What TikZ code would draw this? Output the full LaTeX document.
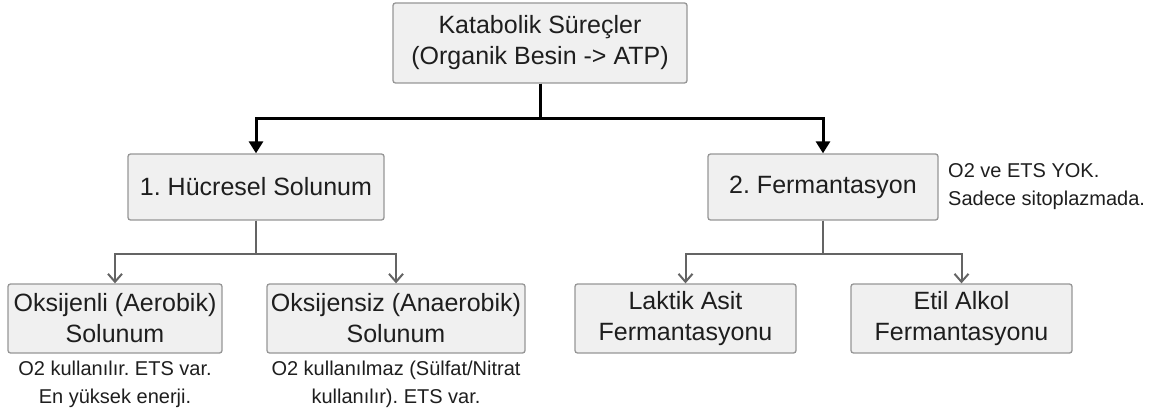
\documentclass[tikz,border=0pt]{standalone}
\usepackage{fontspec}
\setmainfont{Liberation Sans}
\frenchspacing
\usetikzlibrary{arrows.meta}
\definecolor{boxfill}{RGB}{240,240,240}
\definecolor{kenar}{RGB}{150,150,150}
\definecolor{yazi}{RGB}{30,30,30}
\definecolor{okgri}{RGB}{100,100,100}
\begin{document}
\begin{tikzpicture}[x=1pt, y=-1pt,
    kutu/.style={draw=kenar, fill=boxfill, line width=1.3pt, rounded corners=2.5pt,
      align=center, text=yazi, inner sep=0pt, font=\fontsize{25}{31}\selectfont},
    aciklama/.style={text=yazi, inner sep=0pt, font=\fontsize{20}{28}\selectfont},
    kalin/.style={line width=3pt, -{Triangle[length=12pt,width=14pt]}},
    ince/.style={draw=okgri, line width=2pt, -{Straight Barb[length=8pt,width=14pt]}}]

    \useasboundingbox (0, 0) rectangle (1162, 412);

    \node[kutu, minimum width=294pt, minimum height=80pt] (katabolik) at (540, 43)
      {Katabolik Süreçler\\(Organik Besin -> ATP)};
    \node[kutu, minimum width=256pt, minimum height=66pt] (solunum) at (256, 187)
      {1. Hücresel Solunum};
    \node[kutu, minimum width=230pt, minimum height=66pt] (ferm) at (823, 187)
      {2. Fermantasyon};

    \node[kutu, minimum width=214pt, minimum height=69pt] (aerob) at (115, 318.5)
      {Oksijenli (Aerobik)\\Solunum};
    \node[kutu, minimum width=258pt, minimum height=69pt] (anaerob) at (396, 318.5)
      {Oksijensiz (Anaerobik)\\Solunum};
    \node[kutu, minimum width=221pt, minimum height=69pt] (laktik) at (685.5, 318.5)
      {Laktik Asit\\Fermantasyonu};
    \node[kutu, minimum width=221pt, minimum height=69pt] (etil) at (961.5, 318.5)
      {Etil Alkol\\Fermantasyonu};

    \node[aciklama, align=center] (aerobnot) at (115, 384)
      {O2 kullanılır. ETS var.\\En yüksek enerji.};
    \node[aciklama, align=center] (anaerobnot) at (396, 384)
      {O2 kullanılmaz (Sülfat/Nitrat\\kullanılır). ETS var.};
    \node[aciklama, align=left, anchor=west] (fermnot) at (948, 187)
      {O2 ve ETS YOK.\\Sadece sitoplazmada.};

    \draw[kalin] (katabolik.south) -- ++(0, 35) -| (solunum.north);
    \draw[kalin] (katabolik.south) -- ++(0, 35) -| (ferm.north);

    \draw[ince] (solunum.south) -- ++(0, 33) -| (aerob.north);
    \draw[ince] (solunum.south) -- ++(0, 33) -| (anaerob.north);
    \draw[ince] (ferm.south) -- ++(0, 33) -| (laktik.north);
    \draw[ince] (ferm.south) -- ++(0, 33) -| (etil.north);

\end{tikzpicture}
\end{document}
